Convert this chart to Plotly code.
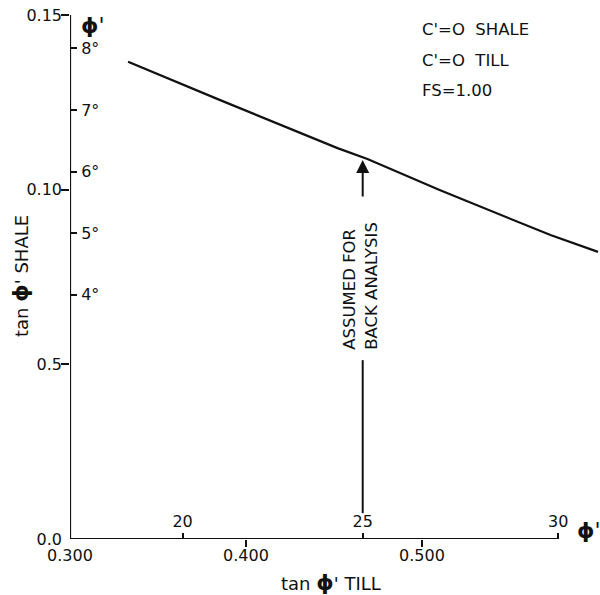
import numpy as np
import plotly.graph_objects as go

# ---- data ----
tan_phi_till = [0.333, 0.385, 0.452, 0.469, 0.510, 0.573, 0.600]
tan_phi_shale = [0.1366, 0.1257, 0.1119, 0.1088, 0.0999, 0.0870, 0.0822]

x_tickvals = [0.3, 0.4, 0.5]
x_ticktext = ["0.300", "0.400", "0.500"]
y_tickvals = [0.0, 0.05, 0.10, 0.15]
y_ticktext = ["0.0", "0.5", "0.10", "0.15"]

till_deg = [20, 25, 30]
shale_deg = [4, 5, 6, 7, 8]
assumed_till_deg = 25
assumed_arrow_tip = 0.1085
assumed_arrow_tail = 0.0976
assumed_line_top = 0.0512
assumed_line_bottom = 0.0074
assumed_text_mid = 0.0725

notes = ["C'=O  SHALE", "C'=O  TILL", "FS=1.00"]

# ---- geometry ----
W, H = 600, 595
ML, MR, MT, MB = 70, 0, 15, 56
PW, PH = W - ML - MR, H - MT - MB
X0 = 0.3
XPX = 1760.0  # px per unit
xr = [X0, X0 + PW / XPX]
yr = [0.0, 0.15]

FONT = "DejaVu Sans"
BLACK = "#111111"

till_tan = list(np.tan(np.radians(till_deg)))
shale_tan = list(np.tan(np.radians(shale_deg)))
assumed_x = float(np.tan(np.radians(assumed_till_deg)))


def px_x(px):
    return (px - ML) / PW


def px_y(py):
    return (H - MB - py) / PH


PHI = "<b>ϕ</b>"

fig = go.Figure()
fig.add_trace(go.Scatter(x=tan_phi_till, y=tan_phi_shale, mode="lines",
                         line=dict(color=BLACK, width=2.2), hoverinfo="skip",
                         showlegend=False, cliponaxis=False))
# helper traces so overlay axes are drawn
for xa, ya in [("x2", "y"), ("x3", "y"), ("x", "y2"), ("x", "y3")]:
    fig.add_trace(go.Scatter(x=[xr[0]], y=[yr[0]], xaxis=xa, yaxis=ya, mode="markers",
                             marker=dict(opacity=0), hoverinfo="skip", showlegend=False))

tickfont = dict(family=FONT, size=16, color=BLACK)

fig.update_layout(
    width=W, height=H,
    margin=dict(l=ML, r=MR, t=MT, b=MB),
    paper_bgcolor="white", plot_bgcolor="white",
    showlegend=False,
    xaxis=dict(range=xr, showgrid=False, zeroline=False, showline=False,
               tickvals=x_tickvals, ticktext=x_ticktext, ticks="",
               ticklabelstandoff=5, tickfont=tickfont),
    xaxis3=dict(range=xr, overlaying="x", anchor="y", showgrid=False, zeroline=False,
                showline=False, tickvals=x_tickvals[1:], ticks="outside", ticklen=7,
                tickwidth=2, tickcolor=BLACK, showticklabels=False),
    xaxis2=dict(range=xr, overlaying="x", side="top", anchor="free", position=0,
                showgrid=False, zeroline=False, showline=False,
                tickvals=till_tan, ticktext=[str(d) for d in till_deg],
                ticks="outside", ticklen=6, tickwidth=2, tickcolor=BLACK,
                tickfont=tickfont, ticklabelstandoff=0),
    yaxis=dict(range=yr, showgrid=False, zeroline=False, showline=False,
               tickvals=y_tickvals, ticktext=y_ticktext, ticks="",
               ticklabelstandoff=7, tickfont=tickfont),
    yaxis3=dict(range=yr, overlaying="y", anchor="x", showgrid=False, zeroline=False,
                showline=False, tickvals=y_tickvals[1:], ticks="outside", ticklen=8,
                tickwidth=2, tickcolor=BLACK, showticklabels=False),
    yaxis2=dict(range=yr, overlaying="y", side="right", anchor="free", position=0,
                showgrid=False, zeroline=False, showline=False,
                tickvals=shale_tan, ticktext=[f"{d}°" for d in shale_deg],
                ticks="outside", ticklen=6, tickwidth=2, tickcolor=BLACK,
                tickfont=tickfont, ticklabelstandoff=1),
)

# axis lines
fig.add_shape(type="line", xref="x", yref="y", x0=X0, x1=X0, y0=yr[0], y1=yr[1],
              line=dict(color=BLACK, width=2.2))
fig.add_shape(type="line", xref="x", yref="y", x0=X0, x1=till_tan[-1], y0=0, y1=0,
              line=dict(color=BLACK, width=2.2))

# assumed-for-back-analysis arrow and line
fig.add_annotation(x=assumed_x, y=assumed_arrow_tip, ax=assumed_x, ay=assumed_arrow_tail,
                   xref="x", yref="y", axref="x", ayref="y", text="", showarrow=True,
                   arrowhead=2, arrowsize=1.3, arrowwidth=2, arrowcolor=BLACK)
fig.add_shape(type="line", xref="x", yref="y", x0=assumed_x, x1=assumed_x,
              y0=assumed_line_bottom, y1=assumed_line_top,
              line=dict(color=BLACK, width=2))
fig.add_annotation(x=assumed_x - 0.0015, y=assumed_text_mid,
                   xref="x", yref="y", text="ASSUMED FOR<br>BACK ANALYSIS",
                   textangle=-90, align="left", showarrow=False,
                   font=dict(family=FONT, size=16.5, color=BLACK))

# notes
for i, t in enumerate(notes):
    fig.add_annotation(x=px_x(420), y=px_y(30 + 30 * i), xref="paper", yref="paper",
                       text=t, showarrow=False, xanchor="left", yanchor="middle",
                       font=dict(family=FONT, size=16.5, color=BLACK))

# phi' labels
fig.add_annotation(x=px_x(79), y=px_y(26), xref="paper", yref="paper", text=PHI + "'",
                   showarrow=False, xanchor="left", yanchor="middle",
                   font=dict(family=FONT, size=22, color=BLACK))
fig.add_annotation(x=px_x(575), y=px_y(530), xref="paper", yref="paper", text=PHI + "'",
                   showarrow=False, xanchor="left", yanchor="middle",
                   font=dict(family=FONT, size=22, color=BLACK))

# axis titles
fig.add_annotation(x=px_x(331), y=px_y(582), xref="paper", yref="paper",
                   text="tan <span style='font-size:22px'>" + PHI + "</span>' TILL",
                   showarrow=False, xanchor="center", yanchor="middle",
                   font=dict(family=FONT, size=18, color=BLACK))
fig.add_annotation(x=px_x(20), y=px_y(276), xref="paper", yref="paper",
                   text="tan <span style='font-size:22px'>" + PHI + "</span>' SHALE",
                   showarrow=False, textangle=-90,
                   xanchor="center", yanchor="middle",
                   font=dict(family=FONT, size=18, color=BLACK))

fig.write_html("out.html", config={"displayModeBar": False},
               post_script="document.body.style.margin='0';")
